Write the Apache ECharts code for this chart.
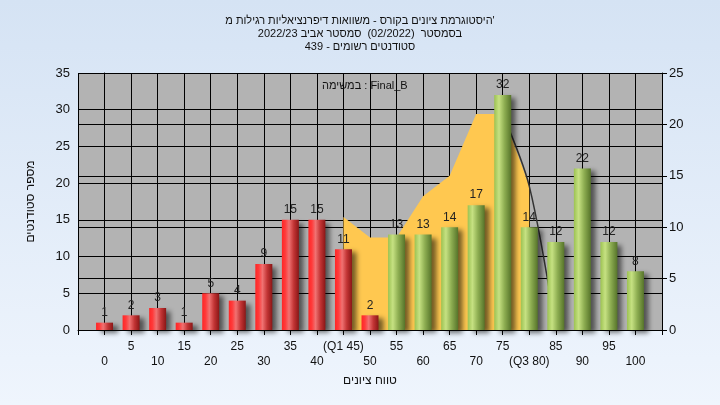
<!DOCTYPE html>
<html>
<head>
<meta charset="utf-8">
<script src="https://cdn.jsdelivr.net/npm/echarts@6/dist/echarts.min.js"></script>
<style>
html,body{margin:0;padding:0;}
#chart{width:720px;height:405px;}
</style>
</head>
<body>
<div id="chart"></div>
<script>
// ---- data ----
const scores = [0,5,10,15,20,25,30,35,40,45,50,55,60,65,70,75,80,85,90,95,100];
const counts = [1,2,3,1,5,4,9,15,15,11,2,13,13,14,17,32,14,12,22,12,8];
const tickLabels = ['0','5','10','15','20','25','30','35','40','(Q1 45)','50','55','60','65','70','75','(Q3 80)','85','90','95','100'];
const iqrScores = [45,50,55,60,65,70,75,80];
const iqrValues = [11,9,9,13,15,21,21,14];
const curveScores = [75,80,85];
const curveValues = [21,14,0];
const failLimit = 50;
const titleLines = [
  "היסטוגרמת ציונים בקורס - משוואות דיפרנציאליות רגילות מ'",
  "בסמסטר  (02/2022)  סמסטר אביב 2022/23",
  "סטודנטים רשומים - 439"
];
const noteText = "במשימה : Final_B";
const xName = "טווח ציונים";
const yName = "מספר סטודנטים";

// ---- styles ----
const font = "'Liberation Sans', 'DejaVu Sans', Arial, sans-serif";
function grad(stops){
  return new echarts.graphic.LinearGradient(0,0,1,0, stops.map(s=>({offset:s[0],color:s[1]})));
}
const redGrad = grad([[0,'#ff2626'],[0.2,'#ff3a3a'],[0.42,'#f07272'],[0.7,'#c23434'],[1,'#8a1616']]);
const greenGrad = grad([[0,'#9cc252'],[0.28,'#c6e182'],[0.6,'#8eae52'],[1,'#56742a']]);

const barData = scores.map((s,i)=>({
  value:[s,counts[i]],
  itemStyle:{color: s<=failLimit ? redGrad : greenGrad}
}));

const chart = echarts.init(document.getElementById('chart'), null, {renderer:'canvas'});
chart.setOption({
  animation:false,
  backgroundColor:{type:'linear',x:0,y:0,x2:0,y2:1,colorStops:[{offset:0,color:'#d5e3f4'},{offset:1,color:'#eff5fd'}]},
  textStyle:{fontFamily:font},
  title:{
    text:titleLines.join('\n'),
    left:'center', top:9,
    textStyle:{fontSize:11,fontWeight:'normal',color:'#111',lineHeight:13,fontFamily:font}
  },
  graphic:[{
    type:'text', left:322, top:80, z:100,
    style:{text:noteText, fill:'#111', font:'11px '+font}
  }],
  grid:{left:78,right:58,top:73,bottom:75,show:true,backgroundColor:'#b3b3b3',borderWidth:0,containLabel:false},
  xAxis:{
    type:'value', min:-5, max:105, interval:5,
    name:xName, nameLocation:'middle', nameGap:45,
    nameTextStyle:{fontSize:12,color:'#111',fontFamily:font},
    axisLine:{show:true,lineStyle:{color:'#000',width:1}},
    axisTick:{show:true,length:5,lineStyle:{color:'#000'}},
    splitLine:{show:true,lineStyle:{color:'#000',width:1}},
    axisLabel:{
      margin:9, fontSize:12, color:'#111', lineHeight:15, fontFamily:font,
      formatter:function(v){
        const i = scores.indexOf(v);
        if(i<0) return '';
        return (v%10===5) ? tickLabels[i] : '\n'+tickLabels[i];
      }
    }
  },
  yAxis:[{
    type:'value', min:0, max:35, interval:5, position:'left',
    name:yName, nameLocation:'middle', nameGap:41, nameRotate:90,
    nameTextStyle:{fontSize:12,color:'#111',fontFamily:font},
    axisLine:{show:true,lineStyle:{color:'#000',width:1}},
    axisTick:{show:true,length:5,lineStyle:{color:'#000'}},
    splitLine:{show:true,lineStyle:{color:'#000',width:1}},
    axisLabel:{fontSize:13,color:'#111',margin:8,fontFamily:font}
  },{
    type:'value', min:0, max:25, interval:5, position:'right',
    axisLine:{show:true,lineStyle:{color:'#000',width:1}},
    axisTick:{show:true,length:5,lineStyle:{color:'#000'}},
    splitLine:{show:true,lineStyle:{color:'#000',width:1}},
    axisLabel:{fontSize:13,color:'#111',margin:7,fontFamily:font}
  }],
  series:[{
    type:'line', yAxisIndex:1, z:1,
    data:iqrScores.map((s,i)=>[s,iqrValues[i]]),
    symbol:'none', lineStyle:{width:0,color:'#ffc850'},
    areaStyle:{color:'#ffc850',opacity:1}
  },{
    type:'line', yAxisIndex:1, z:2,
    data:curveScores.map((s,i)=>[s,curveValues[i]]),
    symbol:'none', smooth:0.3, lineStyle:{width:1.5,color:'#333'}
  },{
    type:'bar', yAxisIndex:0, z:3, barWidth:17,
    data:barData,
    itemStyle:{shadowColor:'rgba(0,0,0,0.55)',shadowBlur:5,shadowOffsetX:5,shadowOffsetY:3},
    label:{show:true,position:'top',distance:4,fontSize:12,color:'#222',fontFamily:font,
      formatter:p=>String(p.value[1])}
  }]
});
</script>
</body>
</html>
